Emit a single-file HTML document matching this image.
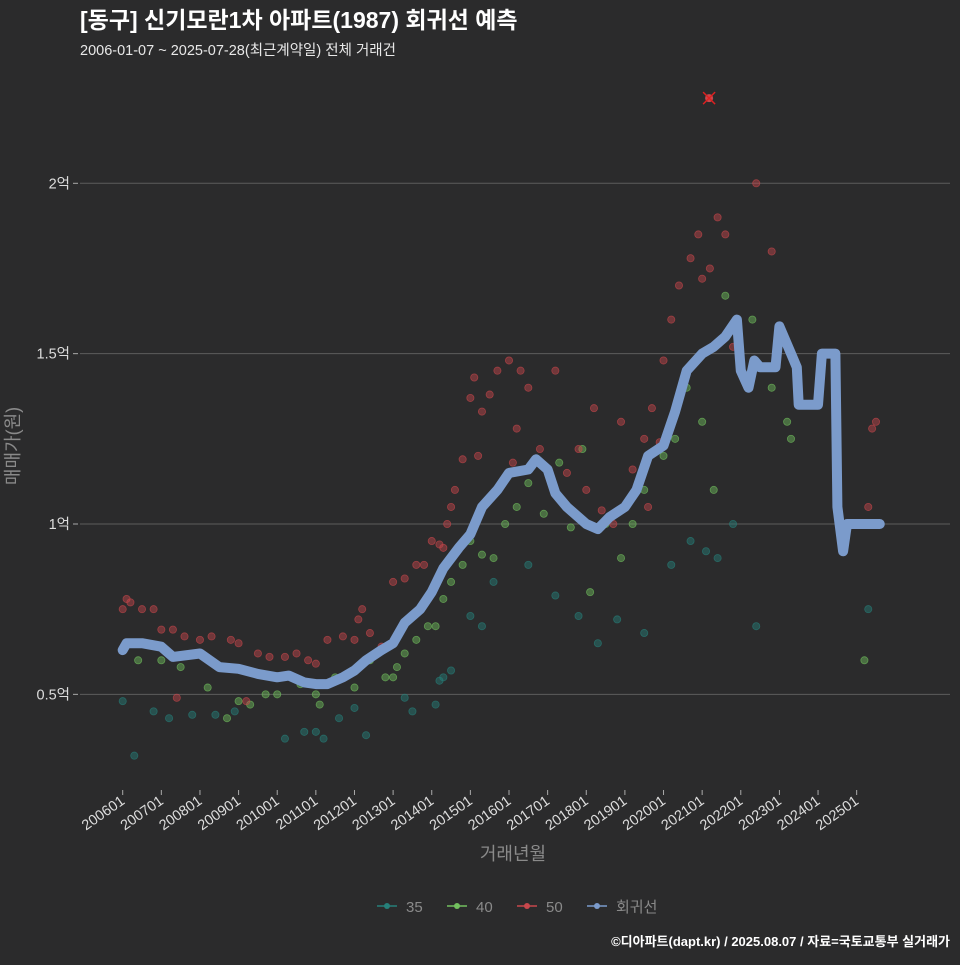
<!DOCTYPE html>
<html><head><meta charset="utf-8">
<style>
html,body{margin:0;padding:0;background:#2b2b2c;}
body{width:960px;height:960px;overflow:hidden;font-family:"Liberation Sans","Noto Sans CJK KR",sans-serif;}
</style></head>
<body>
<svg id="chart" width="960" height="960" xmlns="http://www.w3.org/2000/svg" style="font-family:'Liberation Sans','Noto Sans CJK KR',sans-serif">
<rect width="960" height="960" fill="#2b2b2c"/>
<text x="80" y="28" fill="#ffffff" font-size="23" font-weight="bold">[동구] 신기모란1차 아파트(1987) 회귀선 예측</text>
<text x="80" y="55" fill="#e8e8e8" font-size="14.5">2006-01-07 ~ 2025-07-28(최근계약일) 전체 거래건</text>
<g id="grid"></g>
<g id="points"></g>
<g id="line"></g>
<g id="xaxis"></g>
<text x="14" y="446" fill="#8a8a8a" font-size="18" transform="rotate(-90 14 446)" text-anchor="middle" dominant-baseline="middle">매매가(원)</text>
<text x="513" y="860" fill="#8a8a8a" font-size="18" text-anchor="middle">거래년월</text>
<g id="legend"></g>
<text x="950" y="946" fill="#ffffff" font-size="13" font-weight="bold" text-anchor="end">©디아파트(dapt.kr) / 2025.08.07 / 자료=국토교통부 실거래가</text>
</svg>
<script>
const yTicks=[0.5,1,1.5,2];
const yTickLabels=["0.5억","1억","1.5억","2억"];
const xTickYears=[2006,2007,2008,2009,2010,2011,2012,2013,2014,2015,2016,2017,2018,2019,2020,2021,2022,2023,2024,2025];
const xTickLabels=["200601","200701","200801","200901","201001","201101","201201","201301","201401","201501","201601","201701","201801","201901","202001","202101","202201","202301","202401","202501"];
const lineT=[2006.0,2006.1,2006.5,2007.0,2007.3,2008.0,2008.5,2009.0,2009.5,2010.0,2010.3,2010.7,2011.0,2011.3,2011.7,2012.0,2012.3,2012.7,2013.0,2013.3,2013.7,2014.0,2014.3,2014.7,2015.0,2015.3,2015.7,2016.0,2016.5,2016.7,2017.0,2017.2,2017.5,2018.0,2018.3,2018.6,2019.0,2019.3,2019.6,2020.0,2020.3,2020.6,2021.0,2021.3,2021.6,2021.9,2022.0,2022.2,2022.35,2022.5,2022.9,2023.0,2023.3,2023.45,2023.5,2024.0,2024.1,2024.45,2024.5,2024.65,2024.75,2025.6];
const lineV=[0.63,0.65,0.65,0.64,0.61,0.62,0.58,0.575,0.56,0.55,0.555,0.535,0.53,0.53,0.55,0.57,0.6,0.63,0.65,0.71,0.75,0.8,0.87,0.93,0.97,1.05,1.1,1.15,1.16,1.19,1.16,1.09,1.05,1.0,0.985,1.02,1.05,1.1,1.2,1.23,1.33,1.45,1.5,1.52,1.55,1.6,1.45,1.4,1.48,1.46,1.46,1.58,1.5,1.46,1.35,1.35,1.5,1.5,1.05,0.92,1.0,1.0];
const s35T=[2006.0,2006.3,2006.8,2007.2,2007.8,2008.4,2008.9,2010.2,2010.7,2011.0,2011.2,2011.6,2012.0,2012.3,2013.3,2013.5,2014.1,2014.2,2014.3,2014.5,2015.0,2015.3,2015.6,2016.5,2017.2,2017.8,2018.3,2018.8,2019.5,2020.2,2020.7,2021.1,2021.4,2021.8,2022.4,2025.3];
const s35V=[0.48,0.32,0.45,0.43,0.44,0.44,0.45,0.37,0.39,0.39,0.37,0.43,0.46,0.38,0.49,0.45,0.47,0.54,0.55,0.57,0.73,0.70,0.83,0.88,0.79,0.73,0.65,0.72,0.68,0.88,0.95,0.92,0.9,1.0,0.7,0.75];
const s40T=[2006.4,2007.0,2007.5,2008.2,2008.7,2009.0,2009.3,2009.7,2010.0,2010.6,2011.0,2011.1,2011.5,2012.0,2012.4,2012.8,2013.0,2013.1,2013.3,2013.6,2013.9,2014.1,2014.3,2014.5,2014.8,2015.0,2015.3,2015.6,2015.9,2016.2,2016.5,2016.9,2017.3,2017.6,2017.9,2018.1,2018.5,2018.9,2019.2,2019.5,2020.0,2020.3,2020.6,2021.0,2021.3,2021.6,2022.3,2022.8,2023.2,2023.3,2025.2];
const s40V=[0.6,0.6,0.58,0.52,0.43,0.48,0.47,0.5,0.5,0.53,0.5,0.47,0.55,0.52,0.6,0.55,0.55,0.58,0.62,0.66,0.7,0.7,0.78,0.83,0.88,0.95,0.91,0.9,1.0,1.05,1.12,1.03,1.18,0.99,1.22,0.8,1.0,0.9,1.0,1.1,1.2,1.25,1.4,1.3,1.1,1.67,1.6,1.4,1.3,1.25,0.6];
const s50T=[2006.0,2006.1,2006.2,2006.5,2006.8,2007.0,2007.3,2007.4,2007.6,2008.0,2008.3,2008.8,2009.0,2009.2,2009.5,2009.8,2010.2,2010.5,2010.8,2011.0,2011.3,2011.7,2012.0,2012.1,2012.2,2012.3,2012.4,2012.7,2013.0,2013.3,2013.6,2013.8,2014.0,2014.2,2014.3,2014.4,2014.5,2014.6,2014.8,2015.0,2015.1,2015.2,2015.3,2015.5,2015.7,2016.0,2016.1,2016.2,2016.3,2016.5,2016.8,2017.2,2017.5,2017.8,2018.0,2018.2,2018.4,2018.7,2018.9,2019.2,2019.5,2019.6,2019.7,2019.9,2020.0,2020.2,2020.4,2020.7,2020.9,2021.0,2021.2,2021.4,2021.6,2021.8,2022.4,2022.8,2023.5,2025.3,2025.4,2025.5];
const s50V=[0.75,0.78,0.77,0.75,0.75,0.69,0.69,0.49,0.67,0.66,0.67,0.66,0.65,0.48,0.62,0.61,0.61,0.62,0.6,0.59,0.66,0.67,0.66,0.72,0.75,0.6,0.68,0.64,0.83,0.84,0.88,0.88,0.95,0.94,0.93,1.0,1.05,1.1,1.19,1.37,1.43,1.2,1.33,1.38,1.45,1.48,1.18,1.28,1.45,1.4,1.22,1.45,1.15,1.22,1.1,1.34,1.04,1.0,1.3,1.16,1.25,1.05,1.34,1.24,1.48,1.6,1.7,1.78,1.85,1.72,1.75,1.9,1.85,1.52,2.0,1.8,1.38,1.05,1.28,1.3];
const maxT=[2021.18];
const maxV=[2.25];

const NS="http://www.w3.org/2000/svg";
function x(t){return 122.7+(t-2006)*38.63;}
function y(v){return 524-(v-1)*340.7;}
function mk(tag,attrs,parent){const e=document.createElementNS(NS,tag);for(const k in attrs)e.setAttribute(k,attrs[k]);parent.appendChild(e);return e;}

const grid=document.getElementById('grid');
yTicks.forEach((v,i)=>{
  const l=mk('line',{x1:80,x2:950,y1:y(v),y2:y(v),stroke:'#5c5c5c','stroke-width':1},grid);
  
  
  const tk=mk('line',{x1:73,x2:78,y1:y(v),y2:y(v),stroke:'#aaa','stroke-width':1},grid);
  
  
  const t=mk('text',{x:70,y:y(v)+5,fill:'#dddddd','font-size':14.5,'text-anchor':'end'},grid);
  
  
  t.textContent=yTickLabels[i];
});
const xa=document.getElementById('xaxis');
xTickYears.forEach((yr,i)=>{
  const px=x(yr);
  const tk=mk('line',{x1:px,x2:px,y1:790,y2:795,stroke:'#aaa','stroke-width':1},xa);
  
  
  const t=mk('text',{x:px+3,y:803,fill:'#dddddd','font-size':14.5,'text-anchor':'end',transform:`rotate(-35 ${px+3} 803)`},xa);
  
  
  t.textContent=xTickLabels[i];
});
const pts=document.getElementById('points');
function drawSeries(T,V,color,name){
  T.forEach((t,i)=>{
    const c=mk('circle',{cx:x(t),cy:y(V[i]),r:3.6,fill:color,'fill-opacity':0.45,stroke:color,'stroke-opacity':0.65,'stroke-width':0.8},pts);
    
    
  });
}
drawSeries(s35T,s35V,'#26807a','point-35');
drawSeries(s40T,s40V,'#72c05e','point-40');
drawSeries(s50T,s50V,'#c8474c','point-50');
maxT.forEach((t,i)=>{
  const g=mk('g',{},pts);
  
  
  mk('circle',{cx:x(t),cy:y(maxV[i]),r:4,fill:'#c8474c'},g);
  mk('path',{d:`M${x(t)-6} ${y(maxV[i])-6}L${x(t)+6} ${y(maxV[i])+6}M${x(t)-6} ${y(maxV[i])+6}L${x(t)+6} ${y(maxV[i])-6}`,stroke:'#e02020','stroke-width':1.5},g);
});
const lg=document.getElementById('line');
const d=lineT.map((t,i)=>(i?'L':'M')+x(t).toFixed(1)+' '+y(lineV[i]).toFixed(1)).join('');
const pl=mk('path',{d:d,fill:'none',stroke:'#7b9bcb','stroke-width':10,'stroke-linejoin':'round','stroke-linecap':'round'},lg);



const legendItems=[["35","#26807a",380],["40","#72c05e",450],["50","#c8474c",520],["회귀선","#7b9bcb",590]];
const leg=document.getElementById('legend');
legendItems.forEach(it=>{
  const g=mk('g',{},leg);
  
  
  mk('line',{x1:it[2]-3,x2:it[2]+17,y1:906,y2:906,stroke:it[1],'stroke-width':1.5},g);
  mk('circle',{cx:it[2]+7,cy:906,r:3,fill:it[1]},g);
  const t=mk('text',{x:it[2]+26,y:912,fill:'#8a8a8a','font-size':15},g);
  t.textContent=it[0];
});
</script>
</body></html>
